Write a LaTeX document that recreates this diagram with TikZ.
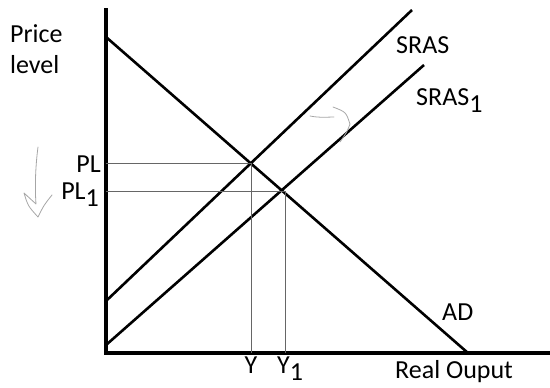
\documentclass[tikz,border=0pt]{standalone}
\usepackage{fontspec}
\setmainfont{Carlito}
\newcommand{\lowone}{\raisebox{-7pt}{1}}
\begin{document}
\begin{tikzpicture}[x=1pt,y=-1pt,
  lbl/.style={font=\fontsize{26}{32}\selectfont,inner sep=0pt},
  curve/.style={line width=2.6pt},
  guide/.style={gray!80!black,line width=0.7pt},
  sketch/.style={gray!70,line width=0.8pt,line cap=round,line join=round}]

\useasboundingbox (0,0) rectangle (550,388);

% Achsen
\coordinate (O) at (106,353);
\coordinate (ytop) at (106,8);
\coordinate (xend) at (550,353);
\draw[line width=3.8pt] (ytop) -- (O) -- (xend);

% Kurven
\coordinate (ad0) at (106,37);   \coordinate (ad1) at (468,353);
\coordinate (sr0) at (106,301);  \coordinate (sr1) at (412,10);
\coordinate (sa0) at (106,345);  \coordinate (sa1) at (424,65);
\draw[curve] (ad0) -- (ad1);
\draw[curve] (sr0) -- (sr1);
\draw[curve] (sa0) -- (sa1);

% Gleichgewichte
\coordinate (E)  at (251,163);
\coordinate (E1) at (285,191);
\draw[guide] (106,163) -- (E) -- (251,353);
\draw[guide] (106,191) -- (E1) -- (285,353);

% Beschriftungen
\node[lbl,anchor=base west] (price) at (10,42) {Price};
\node[lbl,anchor=base west] (level) at (10,74) {level};
\node[lbl,anchor=base east] (pl)  at (101,172) {PL};
\node[lbl,anchor=base east] (pl1) at (99,199) {PL\lowone};
\node[lbl,anchor=base] (y)  at (251,373) {Y};
\node[lbl,anchor=base west] (y1) at (277,373) {Y\lowone};
\node[lbl,anchor=base west] (ro) at (395,378) {Real Ouput};
\node[lbl,anchor=base west] (sras)  at (396,53)  {SRAS};
\node[lbl,anchor=base west] (sras1) at (416,105) {SRAS\lowone};
\node[lbl,anchor=base west] (ad)    at (442,320) {AD};

% Skizzenpfeile
\coordinate (d0) at (38,147); \coordinate (d1) at (38,217);
\draw[sketch] (d0) .. controls (35,170) and (35,190) .. (36,204)
  -- (24,193) .. controls (28,206) .. (d1) .. controls (44,205) .. (52,195);
\coordinate (r0) at (310,116); \coordinate (r1) at (350,124);
\draw[sketch] (r0) .. controls (320,118) and (328,117) .. (334,117);
\draw[sketch] (333,107) .. controls (346,112) .. (r1) .. controls (347,132) .. (340,142);

\end{tikzpicture}
\end{document}
